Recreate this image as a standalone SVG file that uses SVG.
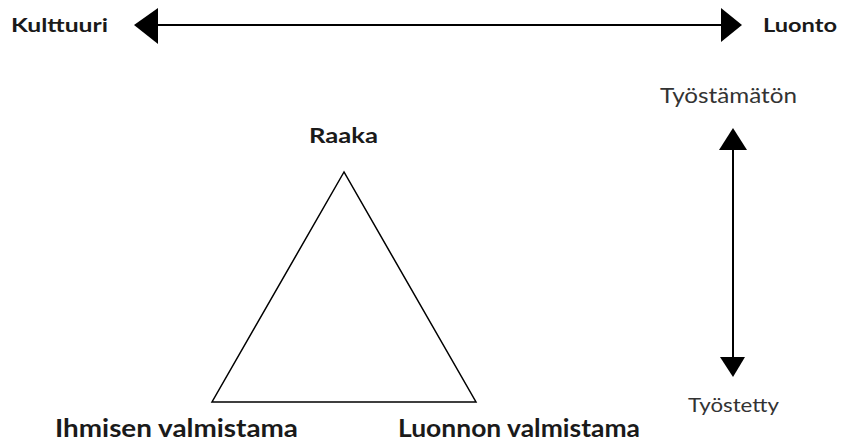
<svg xmlns="http://www.w3.org/2000/svg" width="841" height="443" viewBox="0 0 841 443">
<style>
.b{font-family:Lato,"Liberation Sans",sans-serif;font-weight:bold;fill:#1a1a1a}
.r{font-family:Lato,"Liberation Sans",sans-serif;fill:#333}
.ln{stroke:#000;stroke-width:2;fill:none}
.ah{fill:#000}
</style>
<rect width="841" height="443" fill="#fff"/>
<g id="connectors">
<line class="ln" x1="150" y1="25" x2="728" y2="25"/>
<polygon class="ah" points="134,25 158,8 158,44"/>
<polygon class="ah" points="742,25 721,8 721,42"/>
<line class="ln" x1="733" y1="140" x2="733" y2="365"/>
<polygon class="ah" points="733,128 719,150 747,150"/>
<polygon class="ah" points="733,377 720,357 745,357"/>
</g>
<g id="kulttuuri"><text class="b" x="11" y="32" font-size="19" textLength="97" lengthAdjust="spacingAndGlyphs">Kulttuuri</text></g>
<g id="luonto"><text class="b" x="763" y="32" font-size="19" textLength="74" lengthAdjust="spacingAndGlyphs">Luonto</text></g>
<g id="tyostamaton"><text class="r" x="660" y="103" font-size="21" textLength="137" lengthAdjust="spacingAndGlyphs">Työstämätön</text></g>
<g id="tyostetty"><text class="r" x="688" y="412" font-size="20" textLength="91" lengthAdjust="spacingAndGlyphs">Työstetty</text></g>
<g id="triangle">
<polygon points="344,172 212,402 476,402" fill="none" stroke="#000" stroke-width="1.5"/>
<text class="b" x="309" y="143" font-size="21" textLength="69" lengthAdjust="spacingAndGlyphs">Raaka</text>
</g>
<g id="ihmisen"><text class="b" x="55" y="437" font-size="24" textLength="243" lengthAdjust="spacingAndGlyphs">Ihmisen valmistama</text></g>
<g id="luonnon"><text class="b" x="398" y="437" font-size="24" textLength="242" lengthAdjust="spacingAndGlyphs">Luonnon valmistama</text></g>
</svg>
